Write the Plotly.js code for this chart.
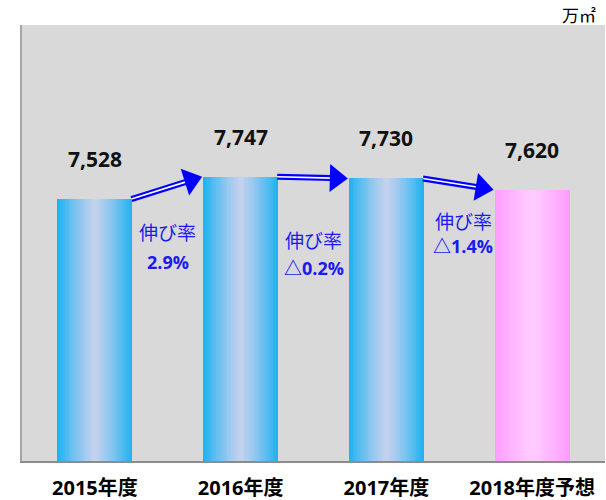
<!DOCTYPE html>
<html><head><meta charset="utf-8">
<script src="https://cdn.plot.ly/plotly-3.0.1.min.js"></script>
<style>html,body{margin:0;padding:0;background:#fff}#chart{width:606px;height:500px}</style>
</head><body><div id="chart"></div>
<script>
// ---- data ----
const categories = ['2015年度', '2016年度', '2017年度', '2018年度予想'];
const values = [7528, 7747, 7730, 7620];
const isForecast = [false, false, false, true];
const rateHeads = ['伸び率', '伸び率', '伸び率'];
const rateLabels = ['2.9%', '△0.2%', '△1.4%'];
const unitLabel = '万㎡';

// ---- style / layout constants ----
const M = {l: 22, r: 1, t: 25, b: 39};
const FW = 606, FH = 500;
const plotW = FW - M.l - M.r, plotH = FH - M.t - M.b;
const yRange = [4960, 9235];
const barWidth = 0.515;
const edgeBlue = [29, 177, 240], centerBlue = [196, 209, 238];
const edgePink = [255, 155, 255], centerPink = [255, 204, 255];
const rateOffsets = [[-44, -74], [-62, -90], [-36, -62]];
const rateXShift = [0, 0, 4];
const numFont = 'Open Sans, "Noto Sans CJK JP"';
const jpFont = '"Noto Sans CJK JP", "Noto Sans"';
const textBlue = '#1A1AF0';

function lerp(a, b, t) { return a.map((v, i) => Math.round(v + (b[i] - v) * t)); }
function rgb(c) { return 'rgb(' + c.join(',') + ')'; }

// gradient bars: nested overlay layers
const N = 20;
const traces = [];
for (let k = 0; k < N; k++) {
  const frac = 1 - k / N;
  const d = 1 - (k + 0.5) / N;     // distance from centre (1 = edge)
  const t = Math.pow(d, 1.2);
  traces.push({
    type: 'bar', x: categories, y: values,
    width: barWidth * frac,
    marker: {color: isForecast.map(f => rgb(f ? lerp(centerPink, edgePink, t) : lerp(centerBlue, edgeBlue, t))), line: {width: 0}},
    hoverinfo: 'skip', showlegend: false
  });
}

// pixel helpers (from layout constants)
const nC = categories.length;
function px(xc) { return M.l + (xc + 0.5) * plotW / nC; }
function py(v) { return M.t + (yRange[1] - v) / (yRange[1] - yRange[0]) * plotH; }
function xd(p) { return (p - M.l) / (plotW / nC) - 0.5; }
function yd(p) { return yRange[1] - (p - M.t) / plotH * (yRange[1] - yRange[0]); }

const shapes = [];
const headL = 18, headH = 14;
for (let i = 0; i < nC - 1; i++) {
  const Sx = px(i + barWidth / 2) - 1, Sy = py(values[i]);
  const Tx = px(i + 1 - barWidth / 2) - 1, Ty = py(values[i + 1]);
  const dx = Tx - Sx, dy = Ty - Sy, len = Math.hypot(dx, dy);
  const ux = dx / len, uy = dy / len, nx = -uy, ny = ux;
  const Bx = Tx - headL * ux, By = Ty - headL * uy;
  shapes.push({type: 'line', xref: 'x', yref: 'y', layer: 'above',
    x0: xd(Sx), y0: yd(Sy), x1: xd(Bx + 2 * ux), y1: yd(By + 2 * uy),
    line: {color: '#0000FF', width: 6}});
  shapes.push({type: 'line', xref: 'x', yref: 'y', layer: 'above',
    x0: xd(Sx), y0: yd(Sy), x1: xd(Bx + 1 * ux), y1: yd(By + 1 * uy),
    line: {color: '#FFFFFF', width: 1.6}});
  const p1 = [Bx + headH * nx, By + headH * ny], p2 = [Bx - headH * nx, By - headH * ny];
  shapes.push({type: 'path', xref: 'x', yref: 'y', layer: 'above',
    path: 'M' + xd(Tx) + ',' + yd(Ty) + 'L' + xd(p1[0]) + ',' + yd(p1[1]) + 'L' + xd(p2[0]) + ',' + yd(p2[1]) + 'Z',
    fillcolor: '#0000FF', line: {width: 0}});
}

const annotations = [];
values.forEach((v, i) => {
  annotations.push({x: categories[i], y: v, xref: 'x', yref: 'y', yanchor: 'middle', yshift: 40,
    text: v.toLocaleString('en-US'), showarrow: false,
    font: {family: numFont, size: 21, color: '#111', weight: 'bold'}});
});
rateLabels.forEach((r, i) => {
  const mid = (values[i] + values[i + 1]) / 2;
  annotations.push({x: i + 0.5, y: mid, xref: 'x', yref: 'y', yanchor: 'middle',
    yshift: rateOffsets[i][0], xshift: rateXShift[i], text: rateHeads[i], showarrow: false,
    font: {family: jpFont, size: 19, color: textBlue}});
  annotations.push({x: i + 0.5, y: mid, xref: 'x', yref: 'y', yanchor: 'middle',
    yshift: rateOffsets[i][1], xshift: rateXShift[i], text: r, showarrow: false,
    font: {family: numFont, size: 18, color: textBlue, weight: 'bold'}});
});
annotations.push({x: 1, y: 1, xref: 'paper', yref: 'paper', xanchor: 'right', yanchor: 'middle',
  xshift: -7, yshift: 11, text: unitLabel, showarrow: false,
  font: {family: jpFont, size: 17, color: '#000'}});

const layout = {
  width: FW, height: FH, margin: M,
  paper_bgcolor: '#FFFFFF', plot_bgcolor: '#D9D9D9',
  barmode: 'overlay', bargap: 0, showlegend: false,
  xaxis: {type: 'category', showgrid: false, zeroline: false, showline: true,
    linecolor: '#8C8C8C', linewidth: 1.5, ticks: 'outside', ticklen: 8, tickcolor: 'rgba(0,0,0,0)',
    tickfont: {family: numFont, size: 20, color: '#000', weight: 'bold'}, fixedrange: true},
  yaxis: {range: yRange, showgrid: false, zeroline: false, showline: true,
    linecolor: '#A5A5A5', linewidth: 2, showticklabels: false, ticks: '', fixedrange: true},
  shapes: shapes, annotations: annotations
};

Plotly.newPlot('chart', traces, layout, {displayModeBar: false, staticPlot: true});
</script></body></html>
